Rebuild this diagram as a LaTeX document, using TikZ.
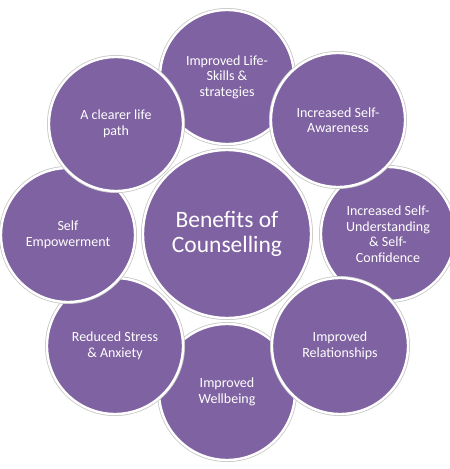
\documentclass[tikz,border=0pt]{standalone}
\usepackage{fontspec}
\setmainfont{Carlito}
\definecolor{bubfill}{HTML}{7F62A1}
\tikzset{
  bub/.style={circle, fill=bubfill, draw=white, line width=2.4pt,
    preaction={draw=black!22, line width=4pt},
    text=white, align=center, inner sep=0pt, font=\fontsize{14}{15.5}\selectfont},
}
\begin{document}
\begin{tikzpicture}[x=1pt,y=-1pt]
\fill[white] (0,0) rectangle (450,469);
\useasboundingbox (0,0) rectangle (450,469);
\node[bub, minimum size=168pt, font=\fontsize{23.5}{25}\selectfont] (c) at (227,234) {Benefits of\\Counselling};
\node[bub, minimum size=134pt] (top) at (227,77) {Improved Life-\\Skills \&\\strategies};
\node[bub, minimum size=134pt] (und) at (388,234) {Increased Self-\\Understanding\\\& Self-\\Confidence};
\node[bub, minimum size=136pt] (well) at (227,392) {Improved\\Wellbeing};
\node[bub, minimum size=136pt] (stress) at (115,346) {Reduced Stress\\\& Anxiety};
\node[bub, minimum size=134pt] (emp) at (68,235) {Self\\Empowerment};
\node[bub, minimum size=134pt] (path) at (116,124) {A clearer life\\path};
\node[bub, minimum size=134pt] (aware) at (338,120) {Increased Self-\\Awareness};
\node[bub, minimum size=136pt] (rel) at (340,346) {Improved\\Relationships};
\end{tikzpicture}
\end{document}
